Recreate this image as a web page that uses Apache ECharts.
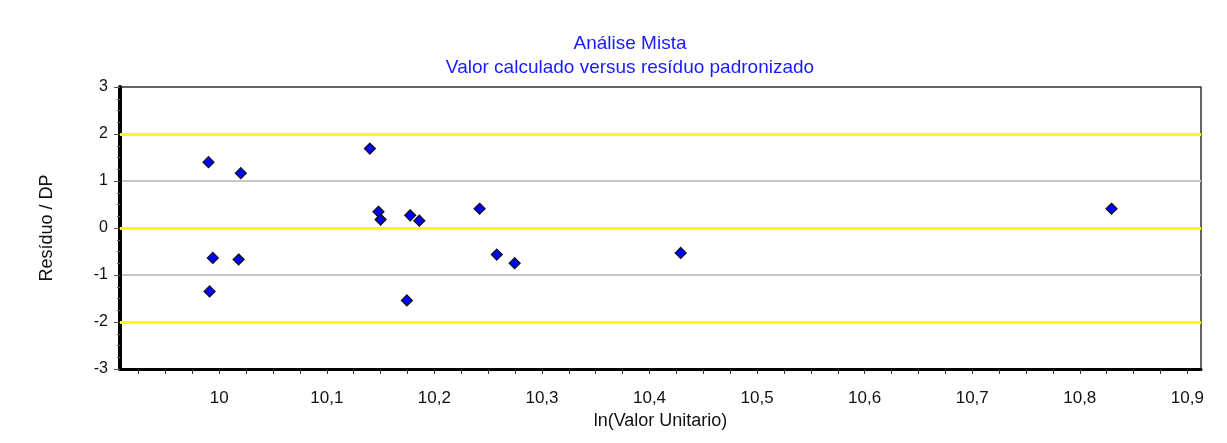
<!DOCTYPE html>
<html>
<head>
<meta charset="utf-8">
<script src="https://cdn.jsdelivr.net/npm/echarts@6/dist/echarts.min.js"></script>
<style>
  html, body { margin: 0; padding: 0; background: #fff; }
  #chart { width: 1227px; height: 443px; }
</style>
</head>
<body>
<div id="chart"></div>
<script>
// Calculated value (ln of unit value) and standardized residual per observation
const lnValor = [9.990, 10.020, 10.140, 10.148, 10.150, 10.1775, 10.186, 10.242,
                 9.994, 10.018, 10.258, 10.2746, 9.991, 10.1744, 10.429, 10.8295];
const residuoDP = [1.40, 1.166, 1.69, 0.346, 0.18, 0.27, 0.155, 0.41,
                   -0.636, -0.67, -0.566, -0.75, -1.35, -1.54, -0.53, 0.41];

// Axis ticks and labels
const xTickValues = [10, 10.1, 10.2, 10.3, 10.4, 10.5, 10.6, 10.7, 10.8, 10.9];
const xTickLabels = ['10', '10,1', '10,2', '10,3', '10,4', '10,5', '10,6', '10,7', '10,8', '10,9'];
const xMinorTicks = [];
for (let i = 0; i <= 39; i++) xMinorTicks.push(Math.round((9.925 + i * 0.025) * 1000) / 1000);
const yTickValues = [-3, -2, -1, 0, 1, 2, 3];
const yTickLabels = ['-3', '-2', '-1', '0', '1', '2', '3'];

// Reference levels drawn in yellow
const limitLevels = [2, 0, -2];

const FONT = 'Liberation Sans, Arial, sans-serif';
const chart = echarts.init(document.getElementById('chart'), null, { renderer: 'canvas' });

chart.setOption({
  animation: false,
  backgroundColor: '#ffffff',
  title: {
    text: 'Análise Mista\nValor calculado versus resíduo padronizado',
    left: 625,
    top: 27,
    textAlign: 'center',
    textStyle: {
      color: '#1a1aff',
      fontFamily: FONT,
      fontSize: 19,
      fontWeight: 'normal',
      lineHeight: 24
    }
  },
  grid: {
    left: 120, right: 26, top: 87, bottom: 74,
    show: true,
    borderColor: '#333',
    borderWidth: 1.5,
    backgroundColor: '#fff'
  },
  xAxis: {
    type: 'value',
    min: 9.9077,
    max: 10.9127,
    name: 'ln(Valor Unitario)',
    nameLocation: 'middle',
    nameGap: 43,
    nameTextStyle: { color: '#111', fontFamily: FONT, fontSize: 18 },
    axisLine: { show: true, onZero: false, lineStyle: { color: '#000', width: 3 } },
    axisTick: {
      show: true, inside: false, length: 5,
      customValues: xMinorTicks,
      lineStyle: { color: '#333', width: 1 }
    },
    axisLabel: {
      customValues: xTickValues,
      margin: 21,
      color: '#111',
      fontFamily: FONT,
      fontSize: 17,
      formatter: function (v) {
        const i = xTickValues.findIndex(t => Math.abs(t - v) < 1e-6);
        return i >= 0 ? xTickLabels[i] : '';
      }
    },
    splitLine: { show: false }
  },
  yAxis: {
    type: 'value',
    min: -3,
    max: 3,
    interval: 1,
    name: 'Resíduo / DP',
    nameLocation: 'middle',
    nameGap: 64,
    nameRotate: 90,
    nameTextStyle: { color: '#111', fontFamily: FONT, fontSize: 18 },
    axisLine: { show: true, onZero: false, lineStyle: { color: '#000', width: 4 } },
    axisTick: { show: true, inside: false, length: 6, lineStyle: { color: '#555', width: 1 } },
    minorTick: { show: true, splitNumber: 4, length: 3, lineStyle: { color: '#666', width: 1 } },
    axisLabel: {
      margin: 12,
      color: '#111',
      fontFamily: FONT,
      fontSize: 16,
      formatter: function (v) {
        const i = yTickValues.indexOf(Math.round(v));
        return i >= 0 ? yTickLabels[i] : '';
      }
    },
    splitLine: {
      show: true,
      lineStyle: { color: ['none', 'none', '#c8c8c8', 'none', '#c8c8c8', 'none', 'none'], width: 2 }
    }
  },
  series: [{
    type: 'scatter',
    data: lnValor.map((x, i) => [x, residuoDP[i]]),
    symbol: 'diamond',
    symbolSize: 11,
    itemStyle: { color: '#0000ff', borderColor: '#111', borderWidth: 1.2, opacity: 1 },
    z: 5,
    markLine: {
      silent: true,
      symbol: 'none',
      label: { show: false },
      lineStyle: { color: '#ffff00', width: 3, type: 'solid' },
      data: limitLevels.map(v => ({ yAxis: v })),
      z: 2
    }
  }]
});
</script>
</body>
</html>
